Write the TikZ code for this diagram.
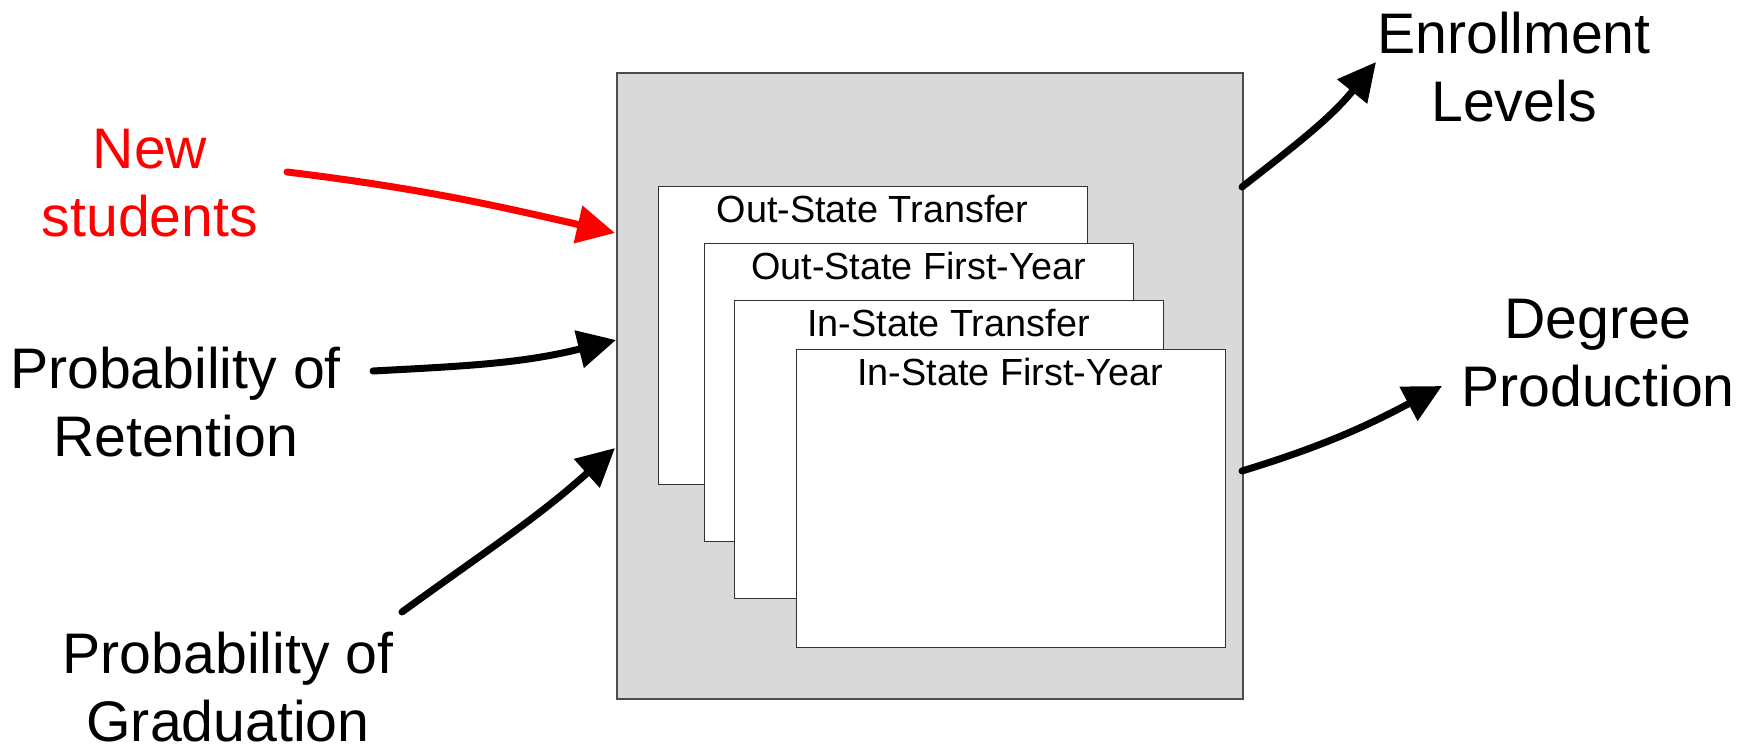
\documentclass[tikz,border=0pt]{standalone}
\usepackage{fontspec}
\setmainfont{Liberation Sans}
\usetikzlibrary{arrows.meta,positioning}
\definecolor{panelgray}{RGB}{217,217,217}
\tikzstyle{flow} = [line width=3.5pt,line cap=round,-{Triangle[length=19pt,width=18.5pt]}]

\begin{document}
\begin{tikzpicture}[x=0.5pt,y=0.5pt]
\tikzset{cohort/.style={draw=black!80,line width=0.7pt,fill=white,minimum width=214.5pt,minimum height=149pt,inner sep=0pt,anchor=north west},
  cohorttitle/.style={anchor=base,inner sep=0pt,font=\fontsize{18.9}{22}\selectfont},
  biglabel/.style={align=center,anchor=base,inner sep=0pt,font=\fontsize{28.6}{34}\selectfont}}
\useasboundingbox (0,0) rectangle (1740,-748);

% the system box
\node[draw=black!70,line width=0.8pt,fill=panelgray,minimum width=313pt,minimum height=313pt,inner sep=0pt,anchor=north west] (sys) at (616,-72) {};

% stacked cohorts
\node[cohort] (ots) at (658,-186) {};
\node[cohorttitle] (ots-t) at (872.5,-223) {Out-State Transfer};
\node[cohort] (ofy) at (704,-243) {};
\node[cohorttitle] (ofy-t) at (918.5,-280) {Out-State First-Year};
\node[cohort] (ist) at (734,-300) {};
\node[cohorttitle] (ist-t) at (948.5,-337) {In-State Transfer};
\node[cohort] (ify) at (796,-349) {};
\node[cohorttitle] (ify-t) at (1010,-386) {In-State First-Year};

% inputs and outputs (base = last line)
\node[biglabel,red] (new) at (150,-236.7) {New\\students};
\node[biglabel] (ret) at (175.5,-456.7) {Probability of\\Retention};
\node[biglabel] (grad) at (228,-741) {Probability of\\Graduation};
\node[biglabel] (enr) at (1514,-121.7) {Enrollment\\Levels};
\node[biglabel] (deg) at (1598,-406.7) {Degree\\Production};

\coordinate (new-s) at (287,-172);
\coordinate (new-e) at (615,-233);
\coordinate (ret-s) at (373,-371);
\coordinate (ret-e) at (616,-340);
\coordinate (grad-s) at (402,-612);
\coordinate (grad-e) at (615,-448);
\coordinate (enr-s) at (1242,-187);
\coordinate (enr-e) at (1376,-62);
\coordinate (deg-s) at (1242,-471);
\coordinate (deg-e) at (1442,-386);

\draw[flow,red] (new-s) to[out=-7,in=167] (new-e);
\draw[flow] (ret-s) to[out=3,in=-166] (ret-e);
\draw[flow] (grad-s) to[out=36,in=222] (grad-e);
\draw[flow] (enr-s) to[out=38,in=231] (enr-e);
\draw[flow] (deg-s) to[out=17,in=208] (deg-e);
\end{tikzpicture}
\end{document}
